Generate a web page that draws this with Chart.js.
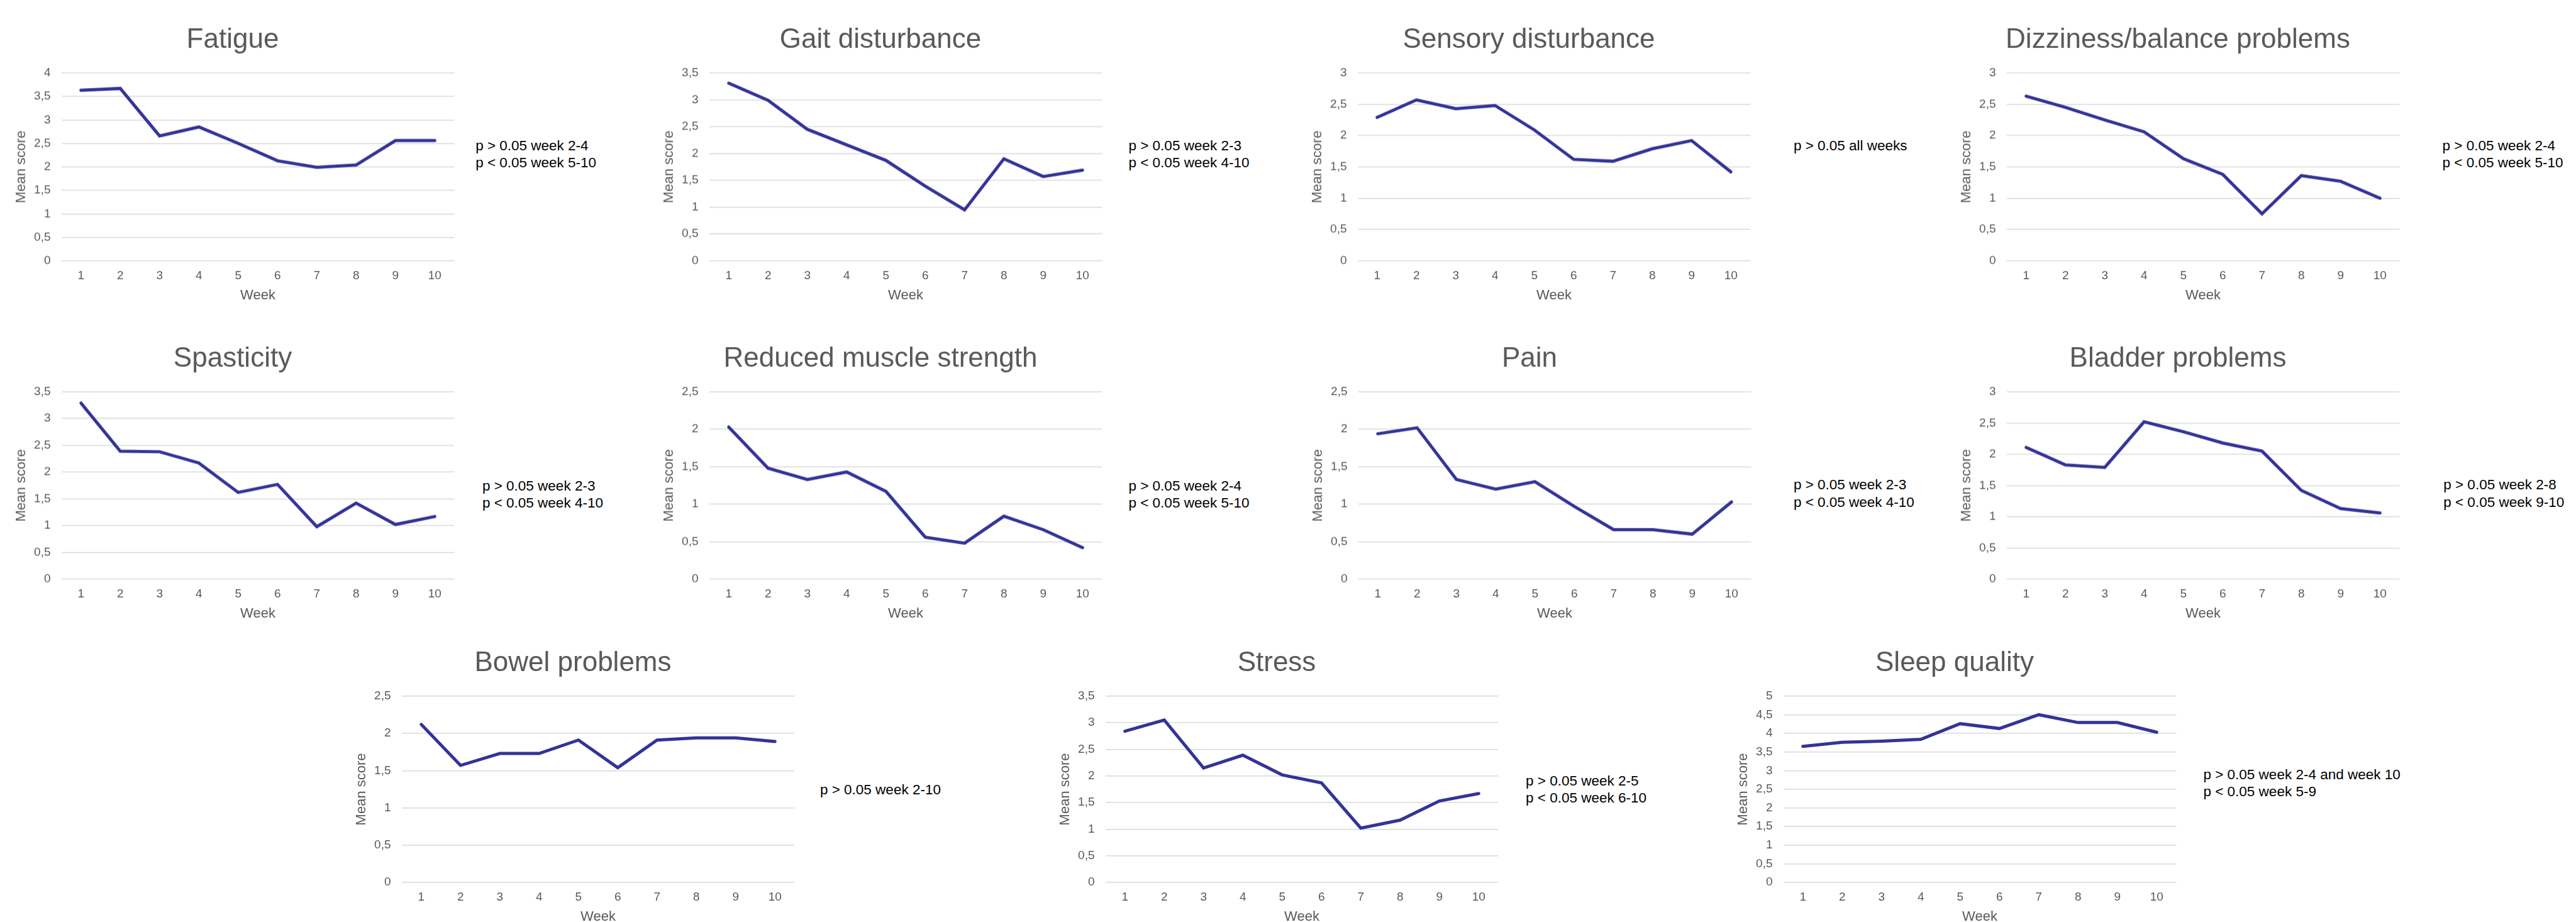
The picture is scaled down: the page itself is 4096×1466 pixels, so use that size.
<!DOCTYPE html>
<html>
<head>
<meta charset="utf-8">
<title>Symptom scores by week</title>
<script src="https://cdn.jsdelivr.net/npm/chart.js@4.4.1/dist/chart.umd.min.js"></script>
<style>
    html, body { margin: 0; padding: 0; background: #fff; }
    body {
        width: 4096px;
        height: 1466px;
        position: relative;
        overflow: hidden;
        font-family: "Liberation Sans", Arial, sans-serif;
    }
    .panel { position: absolute; }
    .note {
        position: absolute;
        font-size: 22.5px;
        line-height: 27.4px;
        color: #000;
        white-space: nowrap;
    }
</style>
</head>
<body>
<script>
// Data
const weeks = ['1', '2', '3', '4', '5', '6', '7', '8', '9', '10'];

const titles = [
    'Fatigue', 'Gait disturbance', 'Sensory disturbance', 'Dizziness/balance problems',
    'Spasticity', 'Reduced muscle strength', 'Pain', 'Bladder problems',
    'Bowel problems', 'Stress', 'Sleep quality'
];

const fatigue     = [3.63, 3.67, 2.66, 2.85, 2.50, 2.13, 1.99, 2.04, 2.56, 2.56];
const gait        = [3.31, 2.99, 2.45, 2.16, 1.87, 1.39, 0.95, 1.90, 1.57, 1.69];
const sensory     = [2.29, 2.57, 2.43, 2.48, 2.09, 1.62, 1.59, 1.79, 1.92, 1.42];
const dizziness   = [2.63, 2.45, 2.25, 2.06, 1.63, 1.38, 0.75, 1.36, 1.27, 1.00];
const spasticity  = [3.29, 2.39, 2.38, 2.17, 1.62, 1.77, 0.98, 1.42, 1.02, 1.17];
const muscle      = [2.03, 1.48, 1.33, 1.43, 1.17, 0.56, 0.48, 0.84, 0.66, 0.42];
const pain        = [1.94, 2.02, 1.33, 1.20, 1.30, 0.97, 0.66, 0.66, 0.60, 1.03];
const bladder     = [2.11, 1.83, 1.79, 2.52, 2.36, 2.18, 2.05, 1.42, 1.13, 1.06];
const bowel       = [2.12, 1.57, 1.73, 1.73, 1.91, 1.54, 1.91, 1.94, 1.94, 1.89];
const stress      = [2.84, 3.05, 2.15, 2.39, 2.02, 1.87, 1.02, 1.17, 1.53, 1.67];
const sleep       = [3.65, 3.76, 3.79, 3.84, 4.26, 4.13, 4.50, 4.29, 4.29, 4.03];

const series = [fatigue, gait, sensory, dizziness, spasticity, muscle, pain, bladder, bowel, stress, sleep];

// y axis maximum per panel (ticks every 0.5)
const yMax = [4, 3.5, 3, 3, 3.5, 2.5, 2.5, 3, 2.5, 3.5, 5];

const notes = [
    ['p > 0.05 week 2-4', 'p < 0.05 week 5-10'],
    ['p > 0.05 week 2-3', 'p < 0.05 week 4-10'],
    ['p > 0.05 all weeks'],
    ['p > 0.05 week 2-4', 'p < 0.05 week 5-10'],
    ['p > 0.05 week 2-3', 'p < 0.05 week 4-10'],
    ['p > 0.05 week 2-4', 'p < 0.05 week 5-10'],
    ['p > 0.05 week 2-3', 'p < 0.05 week 4-10'],
    ['p > 0.05 week 2-8', 'p < 0.05 week 9-10'],
    ['p > 0.05 week 2-10'],
    ['p > 0.05 week 2-5', 'p < 0.05 week 6-10'],
    ['p > 0.05 week 2-4 and week 10', 'p < 0.05 week 5-9']
];

// Layout, in reference pixels (scaled by S below)
const S = 0.83;
const plotLeft   = [118, 1358, 2600, 3844, 118, 1359, 2602, 3844, 769, 2118, 3416];
const plotTop    = [140, 140, 140, 140, 750, 750, 750, 750, 1333, 1333, 1333];
const plotBottom = [499, 499, 499, 499, 1108, 1108, 1108, 1108, 1690, 1690, 1690];
const plotWidth  = 756;
const noteX      = [911, 2162, 3436, 4679, 924, 2162, 3436, 4681, 1571, 2923, 4221];
const noteY      = [279, 279, 279, 279, 931, 931, 929, 929, 1513, 1496, 1484];

const AXIS_W = 82.5;   // y axis box width (title + ticks)
const TITLE_H = 88.8;  // title box height
const XAXIS_H = 72;    // x axis box height

Chart.defaults.font.family = '"Liberation Sans", Arial, sans-serif';
Chart.defaults.color = '#595959';

function formatTick(value) {
    return String(value).replace('.', ',');
}

titles.forEach((title, i) => {
    const left = plotLeft[i] * S - AXIS_W;
    const top = plotTop[i] * S - TITLE_H;
    const width = AXIS_W + plotWidth * S;
    const height = (plotBottom[i] - plotTop[i]) * S + TITLE_H + XAXIS_H;

    const box = document.createElement('div');
    box.className = 'panel';
    box.style.left = left + 'px';
    box.style.top = top + 'px';
    box.style.width = width + 'px';
    box.style.height = height + 'px';
    const canvas = document.createElement('canvas');
    box.appendChild(canvas);
    document.body.appendChild(box);

    new Chart(canvas, {
        type: 'line',
        data: {
            labels: weeks,
            datasets: [{
                data: series[i],
                borderColor: '#333399',
                borderWidth: 5,
                borderCapStyle: 'round',
                pointRadius: 0,
                tension: 0,
                fill: false
            }]
        },
        options: {
            responsive: true,
            maintainAspectRatio: false,
            animation: false,
            devicePixelRatio: 1,
            layout: { padding: 0 },
            plugins: {
                legend: { display: false },
                tooltip: { enabled: false },
                title: {
                    display: true,
                    text: title,
                    color: '#595959',
                    font: { size: 44, weight: 'normal' },
                    padding: { top: 10, bottom: 26 }
                }
            },
            scales: {
                x: {
                    offset: true,
                    grid: { display: false, drawTicks: false },
                    border: { display: false },
                    ticks: { font: { size: 19 }, color: '#595959', padding: 12.6, maxRotation: 0 },
                    title: {
                        display: true,
                        text: 'Week',
                        color: '#595959',
                        font: { size: 22 },
                        padding: { top: 0, bottom: 4 }
                    },
                    afterFit: function(scale) { scale.height = XAXIS_H; }
                },
                y: {
                    min: 0,
                    max: yMax[i],
                    grid: { color: '#d9d9d9', lineWidth: 1.5, drawTicks: false },
                    border: { display: false },
                    ticks: {
                        stepSize: 0.5,
                        font: { size: 19 },
                        color: '#595959',
                        padding: 17,
                        callback: formatTick
                    },
                    title: {
                        display: true,
                        text: 'Mean score',
                        color: '#595959',
                        font: { size: 22 },
                        padding: { top: 5.3, bottom: 0 }
                    },
                    afterFit: function(scale) { scale.width = AXIS_W; }
                }
            }
        }
    });

    // significance note to the right of the plot
    const note = document.createElement('div');
    note.className = 'note';
    note.style.left = (noteX[i] * S) + 'px';
    note.style.top = (noteY[i] * S - 13.7) + 'px';
    note.innerHTML = notes[i].join('<br>');
    document.body.appendChild(note);
});
</script>
</body>
</html>
